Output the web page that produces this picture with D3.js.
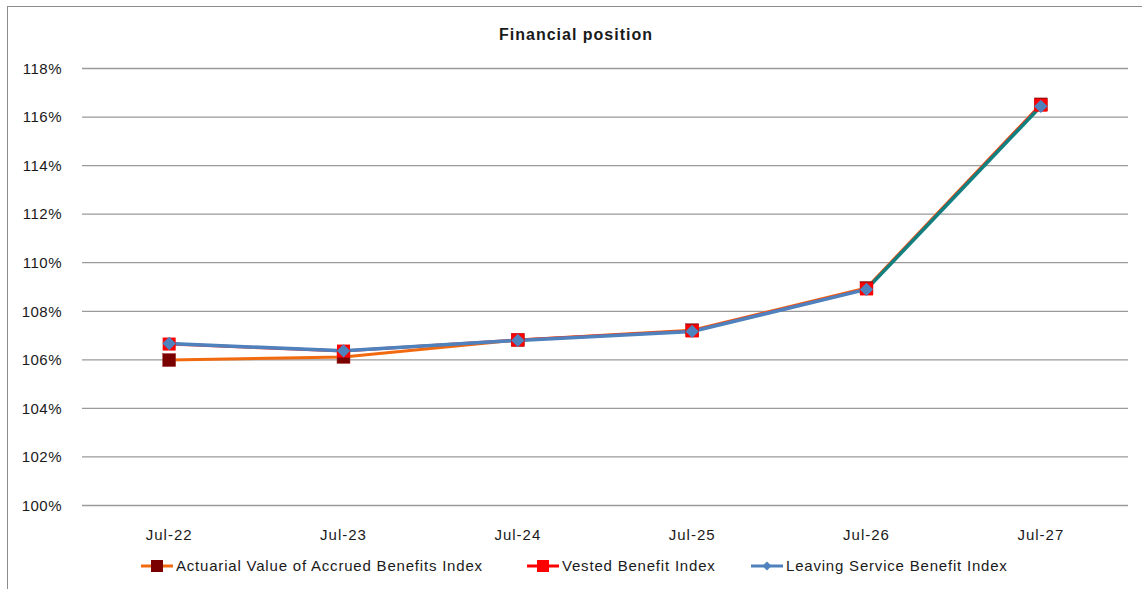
<!DOCTYPE html>
<html><head><meta charset="utf-8">
<script src="https://cdn.jsdelivr.net/npm/d3@7"></script>
<style>body{margin:0;background:#fff}text{font-family:"Liberation Sans",Arial,sans-serif;fill:#1a1a1a}</style>
</head><body><svg id="c" width="1142" height="589"></svg>
<script>
const categories = ["Jul-22","Jul-23","Jul-24","Jul-25","Jul-26","Jul-27"];
const actuarial = [105.97, 106.1, 106.8, 107.2, 108.94, 116.5];
const vested = [106.63, 106.34, 106.8, 107.17, 108.9, 116.47];
const leaving = [106.65, 106.35, 106.78, 107.15, 108.88, 116.42];
const yTicks = [100,102,104,106,108,110,112,114,116,118];
const seriesNames = ["Actuarial Value of Accrued Benefits Index","Vested Benefit Index","Leaving Service Benefit Index"];

const svg = d3.select("#c");
svg.append("rect").attr("x",7.5).attr("y",6.5).attr("width",1140).attr("height",590).attr("fill","none").attr("stroke","#8c8c8c");

const x = d3.scaleBand().domain(categories).range([82,1128]);
const y = d3.scaleLinear().domain([100,118]).range([505,68]);
const cx = d => x(d)+x.bandwidth()/2;

svg.append("text").attr("x",576).attr("y",40).attr("text-anchor","middle").attr("font-weight","bold").attr("font-size",16).attr("letter-spacing",1).text("Financial position");

const yAxis = svg.append("g").attr("transform","translate(82,0)").call(d3.axisLeft(y).tickValues(yTicks).tickSize(-1046).tickFormat(d=>d+"%"));
yAxis.select(".domain").remove();
yAxis.selectAll(".tick line").attr("stroke","#9a9a9a").attr("stroke-width",1.3);
yAxis.selectAll(".tick text").attr("x",-20).attr("font-size",15).attr("letter-spacing",0.5).attr("dy","0.35em").style("font-family","Liberation Sans, Arial").attr("fill","#1a1a1a");

const xAxis = svg.append("g").attr("transform","translate(0,505)").call(d3.axisBottom(x).tickSize(0));
xAxis.select(".domain").remove();
xAxis.selectAll(".tick text").attr("y",24).attr("font-size",15).attr("letter-spacing",1).style("font-family","Liberation Sans, Arial").attr("fill","#1a1a1a");

const line = d3.line().x((d,i)=>cx(categories[i])).y(d=>y(d));

svg.append("path").datum(actuarial).attr("d",line).attr("fill","none").attr("stroke","#F26A10").attr("stroke-width",3);
svg.append("path").datum(vested).attr("d",line).attr("fill","none").attr("stroke","#E8303A").attr("stroke-width",3);
svg.append("path").datum(leaving.slice(0,5)).attr("d",line).attr("fill","none").attr("stroke","#4F81BD").attr("stroke-width",3.5);
svg.append("line").attr("x1",cx(categories[4])).attr("y1",y(leaving[4])).attr("x2",cx(categories[5])).attr("y2",y(leaving[5])).attr("stroke","#138080").attr("stroke-width",3.5);

svg.selectAll(".ma").data(actuarial).enter().append("rect").attr("x",(d,i)=>cx(categories[i])-6.5).attr("y",d=>y(d)-6.5).attr("width",13).attr("height",13).attr("fill","#7A0000").attr("stroke","#A03030").attr("stroke-width",0.5);
svg.selectAll(".mv").data(vested).enter().append("rect").attr("x",(d,i)=>cx(categories[i])-6.5).attr("y",d=>y(d)-6.5).attr("width",13).attr("height",13).attr("fill","#FF0000");
const dia = d3.symbol().type(d3.symbolSquare).size(90);
svg.selectAll(".ml").data(leaving).enter().append("path").attr("d",dia).attr("transform",(d,i)=>`translate(${cx(categories[i])},${y(d)}) rotate(45)`).attr("fill","#4F81BD");

const leg = [{x:141,name:seriesNames[0],lc:"#F26A10",mk:"sq",mc:"#7A0000"},{x:527,name:seriesNames[1],lc:"#FF0000",mk:"sq",mc:"#FF0000"},{x:751,name:seriesNames[2],lc:"#4F81BD",mk:"dia",mc:"#4F81BD"}];
const ly = 566;
leg.forEach(l=>{
  svg.append("line").attr("x1",l.x).attr("x2",l.x+32).attr("y1",ly).attr("y2",ly).attr("stroke",l.lc).attr("stroke-width",3);
  if(l.mk==="sq") svg.append("rect").attr("x",l.x+10).attr("y",ly-6).attr("width",12).attr("height",12).attr("fill",l.mc);
  else svg.append("path").attr("d",d3.symbol().type(d3.symbolSquare).size(40)).attr("transform",`translate(${l.x+16},${ly}) rotate(45)`).attr("fill",l.mc);
  svg.append("text").attr("x",l.x+35).attr("y",ly).attr("dy","0.35em").attr("font-size",15).attr("letter-spacing",0.8).text(l.name);
});
</script></body></html>
